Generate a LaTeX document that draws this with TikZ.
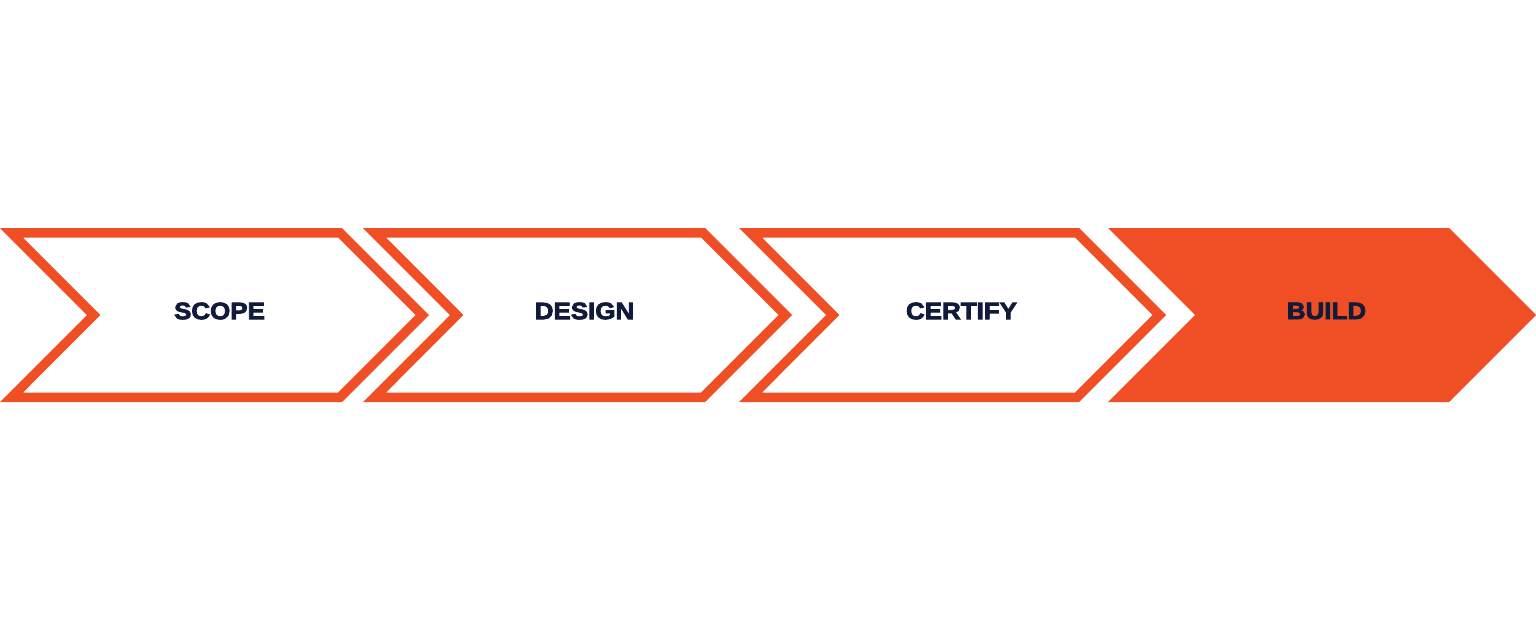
\documentclass[tikz,border=0pt]{standalone}
\usepackage{fontspec}
\setmainfont{Liberation Sans}
\newfontfamily\lblfont[FakeBold=3]{Liberation Sans Bold}
\definecolor{brand}{HTML}{F04E25}
\definecolor{navy}{HTML}{101A3A}
\begin{document}
\begin{tikzpicture}[x=1pt,y=-1pt,
  lbl/.style={font=\lblfont\fontsize{23.8}{23.8}\selectfont, text=navy, inner sep=0pt, anchor=center, xscale=1.09}]
\useasboundingbox (0,0) rectangle (1536,630);
\fill[white] (0,0) rectangle (1536,630);
\newcommand{\chevout}[2]{(#1,228) -- (#1+#2,228) -- (#1+#2+87,315) -- (#1+#2,402) -- (#1,402) -- (#1+87,315) -- cycle}
\newcommand{\chevin}[2]{(#1+23,237.5) -- (#1+#2-3.9,237.5) -- (#1+#2+87-13.4,315) -- (#1+#2-3.9,392.5) -- (#1+23,392.5) -- (#1+87+13.4,315) -- cycle}
\fill[brand,even odd rule] \chevout{0}{342} \chevin{0}{342};
\fill[brand,even odd rule] \chevout{363}{342} \chevin{363}{342};
\fill[brand,even odd rule] \chevout{739}{340} \chevin{739}{340};
\fill[brand] \chevout{1108}{341};
\node[lbl] (scope) at (219.5,311) {SCOPE};
\node[lbl] (design) at (584.5,311) {DESIGN};
\node[lbl] (certify) at (961.5,311) {CERTIFY};
\node[lbl] (build) at (1326.5,311) {BUILD};
\end{tikzpicture}
\end{document}
